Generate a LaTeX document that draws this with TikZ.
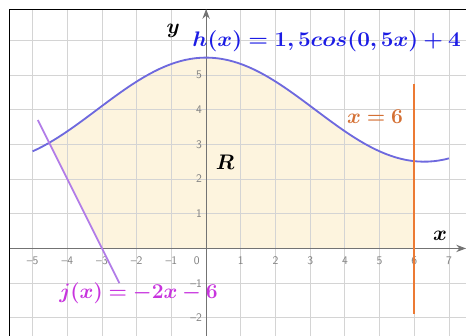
\documentclass[tikz,border=0pt]{standalone}
\usepackage{amsmath,bm}
\usetikzlibrary{arrows.meta}
\definecolor{hblue}{RGB}{110,105,222}
\definecolor{htext}{RGB}{28,28,228}
\definecolor{jline}{RGB}{178,125,232}
\definecolor{jtext}{RGB}{200,52,222}
\definecolor{orng}{RGB}{236,122,52}
\definecolor{otext}{RGB}{212,112,52}
\definecolor{region}{RGB}{253,244,222}
\begin{document}
\begin{tikzpicture}[x=1cm,y=1cm,
  grid/.style={draw=black!17,line width=0.7pt},
  axis/.style={draw=black!55,line width=0.8pt,-{Stealth[length=8pt,width=6pt]}},
  tick/.style={font=\sffamily\fontsize{9.5}{11}\selectfont,text=black!50,inner sep=1pt},
  lab/.style={font=\fontsize{19}{21}\selectfont,inner sep=0pt}]
  \useasboundingbox (-5.94,-2.52) rectangle (7.49,7.16);
  % region R
  \fill[region] (-3,0) -- (-4.53,3.06)
    -- plot[domain=-4.53:6,samples=60] (\x,{1.5*cos(0.5*\x r)+4})
    -- (6,0) -- cycle;
  % grid
  \foreach \i in {-5,...,7} \draw[grid] (\i,-2.6) -- (\i,6.9);
  \foreach \j in {-2,...,6} \draw[grid] (-5.66,\j) -- (7.6,\j);
  \draw[black,line width=0.8pt] (-5.66,-2.7) -- (-5.66,6.9) -- (7.6,6.9);
  % axes
  \coordinate (xs) at (-5.66,0);
  \coordinate (xe) at (7.49,0);
  \coordinate (ys) at (0,-2.52);
  \coordinate (ye) at (0,6.9);
  \draw[axis] (xs) -- (xe);
  \draw[axis] (ys) -- (ye);
  \foreach \i in {-5,...,-1} \node[tick] (tx\i) at (\i,-0.36) {\textendash\the\numexpr-\i\relax};
  \foreach \i in {1,...,7} \node[tick] (tx\i) at (\i,-0.36) {\i};
  \node[tick] (t0) at (-0.27,-0.36) {0};
  \foreach \j in {-2,-1} \node[tick,anchor=east] (ty\j) at (-0.08,\j) {\textendash\the\numexpr-\j\relax};
  \foreach \j in {1,...,5} \node[tick,anchor=east] (ty\j) at (-0.08,\j) {\j};
  % curves
  \draw[hblue,line width=1.5pt] plot[domain=-5:7,samples=80] (\x,{1.5*cos(0.5*\x r)+4});
  \coordinate (j1) at (-4.85,3.7);
  \coordinate (j2) at (-2.5,-1);
  \draw[jline,line width=1.5pt] (j1) -- (j2);
  \coordinate (o1) at (6,4.75);
  \coordinate (o2) at (6,-1.9);
  \draw[orng,line width=1.8pt] (o1) -- (o2);
  % labels
  \node[lab] (ylab) at (-0.95,6.27) {$\bm{y}$};
  \node[lab] (xlab) at (6.74,0.36) {$\bm{x}$};
  \node[lab] (rlab) at (0.55,2.49) {$\bm{R}$};
  \node[lab,text=htext,anchor=west] (hlab) at (-0.4,5.97) {\scalebox{1.07}[1]{$\bm{h(x)=1,5cos(0,5x)+4}$}};
  \node[lab,text=otext] (olab) at (4.87,3.8) {$\bm{x=6}$};
  \node[lab,text=jtext] (jlab) at (-1.95,-1.28) {$\bm{j(x)=-2x-6}$};
\end{tikzpicture}
\end{document}
